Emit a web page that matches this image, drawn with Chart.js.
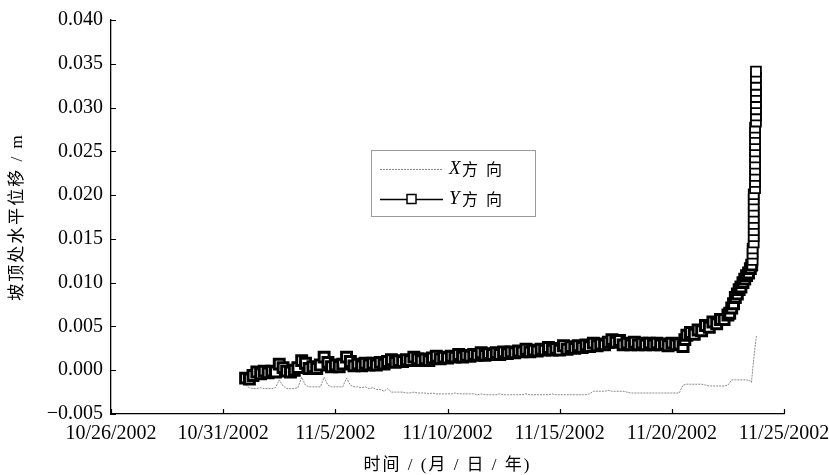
<!DOCTYPE html>
<html><head><meta charset="utf-8">
<script src="https://cdn.jsdelivr.net/npm/chart.js@4.4.1/dist/chart.umd.min.js"></script>
<style>html,body{margin:0;padding:0;background:#fff}</style>
</head><body>
<canvas id="c" width="829" height="475"></canvas>
<script>
// ---- data (x = days since 10/26/2002) ----
const xTickValues = [0, 5, 10, 15, 20, 25, 30];
const xTickLabels = ['10/26/2002','10/31/2002','11/5/2002','11/10/2002','11/15/2002','11/20/2002','11/25/2002'];
const yTickValues = [-0.005, 0, 0.005, 0.010, 0.015, 0.020, 0.025, 0.030, 0.035, 0.040];
const yTickLabels = ['\u22120.005','0.000','0.005','0.010','0.015','0.020','0.025','0.030','0.035','0.040'];
const seriesNames = ['X方向', 'Y方向'];
const xAxisTitle = '时间 / (月 / 日 / 年)';
const yAxisTitle = '坡顶处水平位移 / m';

const yDays = [
  6.00,6.17,6.33,6.50,6.67,6.83, 7.00,7.17,7.33,7.50,7.67,7.83,
  8.00,8.17,8.33,8.50,8.67,8.83, 9.00,9.17,9.33,9.50,9.67,9.83,
  10.00,10.17,10.33,10.50,10.67,10.83, 11.00,11.17,11.33,11.50,11.67,11.83,
  12.00,12.17,12.33,12.50,12.67,12.83, 13.00,13.17,13.33,13.50,13.67,13.83,
  14.00,14.17,14.33,14.50,14.67,14.83, 15.00,15.17,15.33,15.50,15.67,15.83,
  16.00,16.17,16.33,16.50,16.67,16.83, 17.00,17.17,17.33,17.50,17.67,17.83,
  18.00,18.17,18.33,18.50,18.67,18.83, 19.00,19.17,19.33,19.50,19.67,19.83,
  20.00,20.17,20.33,20.50,20.67,20.83, 21.00,21.17,21.33,21.50,21.67,21.83,
  22.00,22.17,22.33,22.50,22.67,22.83, 23.00,23.17,23.33,23.50,23.67,23.83,
  24.00,24.17,24.33,24.50,24.67,24.83, 25.00,25.17,25.33,
  25.50,25.58,25.67,25.83,26.00,26.17,26.33,26.50,26.67,26.83,27.00,27.17,27.33,27.50,
  27.58,27.67,27.75,27.83,27.92,28.00,28.08,28.17,28.25,28.33,28.42,28.50,28.56,
  28.60,28.60,28.60,
  28.65,28.65,28.65,28.65,28.65,28.65,28.65,28.65,28.65,
  28.71,28.71,28.71,28.71,28.71,28.71,28.71,28.71,28.71,28.71,28.71,
  28.75,28.75,28.75,28.75,28.75,28.75,28.75,28.75,28.75
];
const yValues = [
  -0.0009,-0.0010,-0.0006,-0.0002,-0.0004,-0.0001, -0.0003,-0.0001,-0.0002,0.0007,0.0003,-0.0001,
  -0.0002,0.0000,0.0003,0.0011,0.0008,0.0002, 0.0004,0.0002,0.0006,0.0015,0.0009,0.0004,
  0.0006,0.0004,0.0007,0.0015,0.0010,0.0005, 0.0007,0.0005,0.0008,0.0006,0.0008,0.0006,
  0.0009,0.0007,0.0010,0.0012,0.0009,0.0011, 0.0010,0.0012,0.0011,0.0015,0.0013,0.0011,
  0.0013,0.0011,0.0014,0.0016,0.0013,0.0015, 0.0014,0.0016,0.0015,0.0018,0.0015,0.0017,
  0.0016,0.0018,0.0017,0.0020,0.0017,0.0019, 0.0018,0.0020,0.0018,0.0021,0.0019,0.0021,
  0.0020,0.0022,0.0021,0.0024,0.0021,0.0023, 0.0022,0.0024,0.0023,0.0026,0.0023,0.0025,
  0.0023,0.0028,0.0024,0.0027,0.0025,0.0028, 0.0026,0.0029,0.0027,0.0031,0.0028,0.0030,
  0.0029,0.0032,0.0035,0.0032,0.0034,0.0029, 0.0031,0.0029,0.0032,0.0029,0.0031,0.0029,
  0.0031,0.0029,0.0031,0.0029,0.0030,0.0028, 0.0031,0.0029,0.0030,
  0.0027,0.0035,0.0040,0.0043,0.0041,0.0046,0.0045,0.0051,0.0049,0.0055,0.0053,0.0058,0.0058,0.0063,
  0.0065,0.0071,0.0076,0.0083,0.0087,0.0092,0.0095,0.0100,0.0104,0.0108,0.0111,0.0116,0.0120,
  0.0126,0.0133,0.0139,
  0.0146,0.0153,0.0160,0.0167,0.0174,0.0181,0.0188,0.0195,0.0201,
  0.0208,0.0215,0.0222,0.0229,0.0236,0.0243,0.0250,0.0257,0.0264,0.0271,0.0277,
  0.0284,0.0291,0.0298,0.0305,0.0312,0.0319,0.0326,0.0334,0.0341
];

const xDays = [
  6.00,6.17,6.33,6.50,6.67,6.83, 7.00,7.17,7.33,7.50,7.67,7.83,
  8.00,8.17,8.33,8.50,8.67,8.83, 9.00,9.17,9.33,9.50,9.67,9.83,
  10.00,10.17,10.33,10.50,10.67,10.83, 11.00,11.17,11.33,11.50,11.67,11.83,
  12.00,12.17,12.33,12.50,12.67,12.83, 13.00,13.17,13.33,13.50,13.67,13.83,
  14.00,14.17,14.33,14.50,14.67,14.83, 15.00,15.17,15.33,15.50,15.67,15.83,
  16.00,16.17,16.33,16.50,16.67,16.83, 17.00,17.17,17.33,17.50,17.67,17.83,
  18.00,18.17,18.33,18.50,18.67,18.83, 19.00,19.17,19.33,19.50,19.67,19.83,
  20.00,20.17,20.33,20.50,20.67,20.83, 21.00,21.17,21.33,21.50,21.67,21.83,
  22.00,22.17,22.33,22.50,22.67,22.83, 23.00,23.17,23.33,23.50,23.67,23.83,
  24.00,24.17,24.33,24.50,24.67,24.83, 25.00,25.17,25.33,25.50,25.67,25.83,
  26.00,26.17,26.33,26.50,26.67,26.83, 27.00,27.17,27.33,27.50,27.67,27.83,
  28.00,28.17,28.33,28.50, 28.55,28.62,28.70,28.77
];
const xValues = [
  -0.0017,-0.0020,-0.0021,-0.0021,-0.0020,-0.0021, -0.0021,-0.0021,-0.0020,-0.0011,-0.0018,-0.0021,
  -0.0021,-0.0021,-0.0020,-0.0008,-0.0017,-0.0019, -0.0019,-0.0019,-0.0019,-0.0008,-0.0017,-0.0019,
  -0.0019,-0.0019,-0.0019,-0.0009,-0.0017,-0.0019, -0.0019,-0.0020,-0.0019,-0.0021,-0.0020,-0.0022,
  -0.0022,-0.0024,-0.0021,-0.0025,-0.0025,-0.0025, -0.0025,-0.0026,-0.0026,-0.0025,-0.0026,-0.0026,
  -0.0026,-0.0027,-0.0026,-0.0027,-0.0027,-0.0027, -0.0027,-0.0027,-0.0026,-0.0027,-0.0027,-0.0027,
  -0.0027,-0.0027,-0.0028,-0.0027,-0.0028,-0.0028, -0.0028,-0.0028,-0.0027,-0.0028,-0.0028,-0.0028,
  -0.0028,-0.0028,-0.0028,-0.0027,-0.0028,-0.0028, -0.0028,-0.0028,-0.0028,-0.0028,-0.0027,-0.0028,
  -0.0028,-0.0028,-0.0028,-0.0028,-0.0028,-0.0028, -0.0028,-0.0028,-0.0027,-0.0024,-0.0024,-0.0024,
  -0.0024,-0.0023,-0.0024,-0.0024,-0.0024,-0.0024, -0.0025,-0.0026,-0.0026,-0.0026,-0.0026,-0.0026,
  -0.0026,-0.0026,-0.0026,-0.0026,-0.0026,-0.0026, -0.0026,-0.0026,-0.0026,-0.0017,-0.0016,-0.0016,
  -0.0016,-0.0016,-0.0016,-0.0017,-0.0018,-0.0018, -0.0018,-0.0018,-0.0018,-0.0017,-0.0011,-0.0011,
  -0.0011,-0.0011,-0.0011,-0.0012, -0.0014,0.0005,0.0024,0.0039
];

// ---- chart ----
const pts = (d, v) => d.map((x, i) => ({ x: x, y: v[i] }));
const TICK_FONT = { family: '"Liberation Serif", "Times New Roman", serif', size: 20 };
const CJK = '"Liberation Serif", "Noto Sans CJK SC", serif';

const decor = {
  id: 'decor',
  afterDraw(chart) {
    const ctx = chart.ctx, ca = chart.chartArea;
    const xs = chart.scales.x, ys = chart.scales.y;
    ctx.save();
    // inward tick marks
    ctx.strokeStyle = '#000'; ctx.lineWidth = 1.2;
    ctx.beginPath();
    xs.ticks.forEach(t => { const px = Math.round(xs.getPixelForValue(t.value)) + 0.5; ctx.moveTo(px, ca.bottom); ctx.lineTo(px, ca.bottom - 5); });
    ys.ticks.forEach(t => { const py = Math.round(ys.getPixelForValue(t.value)) + 0.5; ctx.moveTo(ca.left, py); ctx.lineTo(ca.left + 5, py); });
    ctx.stroke();

    // axis titles
    ctx.fillStyle = '#000';
    ctx.font = '17px ' + CJK;
    ctx.letterSpacing = '2px';
    ctx.textAlign = 'center'; ctx.textBaseline = 'middle';
    ctx.fillText(xAxisTitle, (ca.left + ca.right) / 2, 466);
    ctx.save();
    ctx.translate(18, (ca.top + ca.bottom) / 2);
    ctx.rotate(-Math.PI / 2);
    ctx.fillText(yAxisTitle, 0, 0);
    ctx.restore();
    ctx.letterSpacing = '0px';

    // legend
    const ds = chart.data.datasets;
    const bx = 371.5, by = 150.5, bw = 164, bh = 66;
    ctx.strokeStyle = '#9a9a9a'; ctx.lineWidth = 1;
    ctx.strokeRect(bx, by, bw, bh);
    const rows = [169, 199];
    const order = [1, 0]; // X first, then Y
    order.forEach((di, r) => {
      const d = ds[di], y = rows[r];
      ctx.save();
      ctx.strokeStyle = d.borderColor; ctx.lineWidth = d.borderWidth;
      ctx.setLineDash(d.borderDash || []);
      ctx.beginPath(); ctx.moveTo(380, y + 0.5); ctx.lineTo(443, y + 0.5); ctx.stroke();
      ctx.setLineDash([]);
      if (d.pointRadius > 0) {
        ctx.fillStyle = d.pointBackgroundColor; ctx.strokeStyle = d.pointBorderColor; ctx.lineWidth = 1.5;
        ctx.fillRect(407, y - 4.5, 9, 9); ctx.strokeRect(407, y - 4.5, 9, 9);
      }
      ctx.restore();
      const name = d.label;
      ctx.fillStyle = '#000'; ctx.textAlign = 'left'; ctx.textBaseline = 'middle';
      ctx.font = 'italic 19px "Liberation Serif", serif';
      ctx.fillText(name[0], 449, y);
      ctx.font = '16px "Noto Sans CJK SC", sans-serif';
      ctx.fillText(name[1], 462, y);
      ctx.fillText(name[2], 486, y);
    });
    ctx.restore();
  }
};

new Chart(document.getElementById('c'), {
  type: 'line',
  data: {
    datasets: [
      {
        label: seriesNames[1], data: pts(yDays, yValues), order: 0,
        borderColor: '#000', borderWidth: 1.6,
        pointStyle: 'rect', pointRadius: 7, pointBackgroundColor: '#fff',
        pointBorderColor: '#000',
        pointBorderWidth: c => (c.parsed && c.parsed.y > 0.0125 ? 1.8 : 3),
        tension: 0
      },
      {
        label: seriesNames[0], data: pts(xDays, xValues), order: 1,
        borderColor: '#8a8a8a', borderWidth: 1, borderDash: [2, 1],
        pointRadius: 0, tension: 0
      }
    ]
  },
  options: {
    responsive: false, animation: false, devicePixelRatio: 1,
    layout: { padding: { top: 20, right: 45, left: 0, bottom: 0 } },
    plugins: { legend: { display: false }, tooltip: { enabled: false } },
    scales: {
      x: {
        type: 'linear', min: 0, max: 30,
        afterBuildTicks: s => { s.ticks = xTickValues.map(v => ({ value: v })); },
        afterFit: s => { s.height = 61; s.paddingLeft = 0; s.paddingRight = 0; },
        grid: { display: true, drawOnChartArea: false, drawTicks: false },
        border: { display: true, color: '#000', width: 1.3 },
        ticks: { color: '#000', font: TICK_FONT, padding: 8, maxRotation: 0, autoSkip: false,
          callback: (v, i) => xTickLabels[i] }
      },
      y: {
        type: 'linear', min: -0.005, max: 0.04,
        afterBuildTicks: s => { s.ticks = yTickValues.map(v => ({ value: v })); },
        afterFit: s => { s.width = 111; s.paddingTop = 0; s.paddingBottom = 0; },
        grid: { display: true, drawOnChartArea: false, drawTicks: false },
        border: { display: true, color: '#000', width: 1.3 },
        ticks: { color: '#000', font: TICK_FONT, padding: 8, autoSkip: false,
          callback: (v, i) => yTickLabels[i] }
      }
    }
  },
  plugins: [decor]
});
</script>
</body></html>
